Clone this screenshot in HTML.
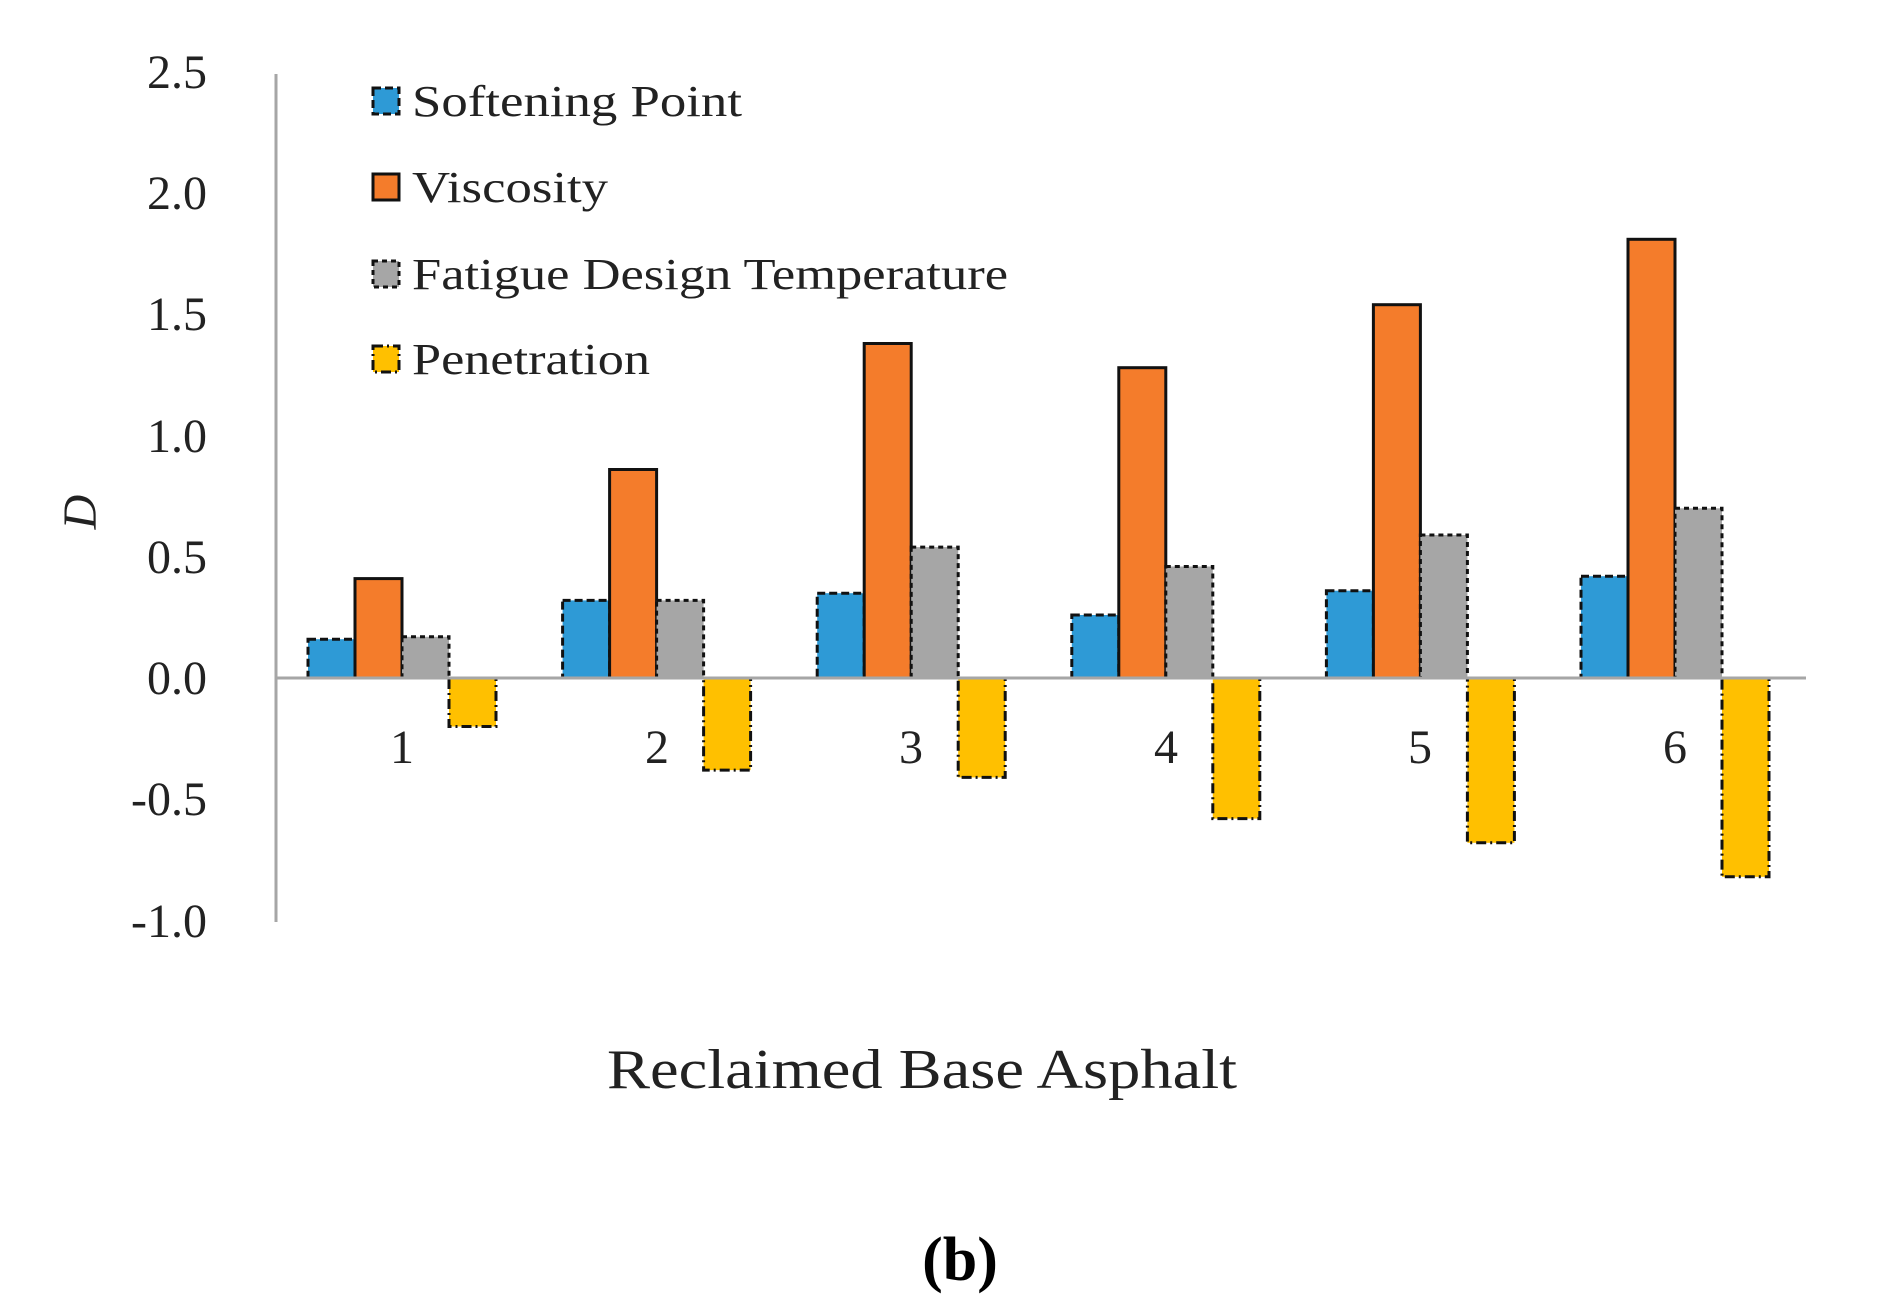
<!DOCTYPE html>
<html><head><meta charset="utf-8"><style>html,body{margin:0;padding:0;background:#fff}svg{display:block}</style></head>
<body>
<svg width="1881" height="1314" viewBox="0 0 1881 1314" xmlns="http://www.w3.org/2000/svg" font-family="Liberation Serif, serif">
<rect width="1881" height="1314" fill="#fff"/>
<line x1="276" y1="74" x2="276" y2="922" stroke="#a6a6a6" stroke-width="3"/>
<g font-size="48" fill="#222" text-anchor="end">
<text x="207" y="88">2.5</text>
<text x="207" y="209">2.0</text>
<text x="207" y="330">1.5</text>
<text x="207" y="452">1.0</text>
<text x="207" y="573">0.5</text>
<text x="207" y="694">0.0</text>
<text x="207" y="815">-0.5</text>
<text x="207" y="937">-1.0</text>
</g>
<text transform="translate(96,512) rotate(-90)" font-size="48" font-style="italic" fill="#222" text-anchor="middle">D</text>
<g stroke="#111" stroke-width="3">
<g fill="#2e9ad6" stroke-dasharray="8,4">
<rect x="308" y="639.2" width="47" height="38.8"/>
<rect x="562.6" y="600.4" width="47" height="77.6"/>
<rect x="817.2" y="593.2" width="47" height="84.8"/>
<rect x="1071.8" y="615" width="47" height="63"/>
<rect x="1326.4" y="590.7" width="47" height="87.3"/>
<rect x="1581" y="576.2" width="47" height="101.8"/>
</g>
<g fill="#f47c2b">
<rect x="355" y="578.6" width="47" height="99.4"/>
<rect x="609.6" y="469.5" width="47" height="208.5"/>
<rect x="864.2" y="343.5" width="47" height="334.5"/>
<rect x="1118.8" y="367.7" width="47" height="310.3"/>
<rect x="1373.4" y="304.7" width="47" height="373.3"/>
<rect x="1628" y="239.3" width="47" height="438.7"/>
</g>
<g fill="#a6a6a6" stroke-dasharray="5,4">
<rect x="402" y="636.8" width="47" height="41.2"/>
<rect x="656.6" y="600.4" width="47" height="77.6"/>
<rect x="911.2" y="547.1" width="47" height="130.9"/>
<rect x="1165.8" y="566.5" width="47" height="111.5"/>
<rect x="1420.4" y="535" width="47" height="143"/>
<rect x="1675" y="508.3" width="47" height="169.7"/>
</g>
<g fill="#ffc000" stroke-dasharray="10,4,2,4">
<rect x="449" y="678" width="47" height="48.5"/>
<rect x="703.6" y="678" width="47" height="92.1"/>
<rect x="958.2" y="678" width="47" height="99.4"/>
<rect x="1212.8" y="678" width="47" height="140.6"/>
<rect x="1467.4" y="678" width="47" height="164.8"/>
<rect x="1722" y="678" width="47" height="198.8"/>
</g>
</g>
<line x1="276" y1="678" x2="1806" y2="678" stroke="#a6a6a6" stroke-width="3"/>
<g font-size="48" fill="#222" text-anchor="middle">
<text x="402" y="763">1</text><text x="657" y="763">2</text><text x="911" y="763">3</text>
<text x="1166" y="763">4</text><text x="1420" y="763">5</text><text x="1675" y="763">6</text>
</g>
<g stroke="#111" stroke-width="3">
<rect x="373" y="88" width="26" height="26" fill="#2e9ad6" stroke-dasharray="8,4"/>
<rect x="373" y="174" width="26" height="26" fill="#f47c2b"/>
<rect x="373" y="261" width="26" height="26" fill="#a6a6a6" stroke-dasharray="5,4"/>
<rect x="373" y="346" width="26" height="26" fill="#ffc000" stroke-dasharray="10,4,2,4"/>
</g>
<g font-size="44" fill="#222">
<text x="412" y="116" textLength="330" lengthAdjust="spacingAndGlyphs">Softening Point</text>
<text x="412" y="202" textLength="196" lengthAdjust="spacingAndGlyphs">Viscosity</text>
<text x="412" y="289" textLength="596" lengthAdjust="spacingAndGlyphs">Fatigue Design Temperature</text>
<text x="412" y="374" textLength="238" lengthAdjust="spacingAndGlyphs">Penetration</text>
</g>
<text x="922" y="1088" font-size="56" fill="#222" text-anchor="middle" textLength="630" lengthAdjust="spacingAndGlyphs">Reclaimed Base Asphalt</text>
<text x="960" y="1280" font-size="62" fill="#000" text-anchor="middle" font-weight="bold">(b)</text>
</svg>
</body></html>
